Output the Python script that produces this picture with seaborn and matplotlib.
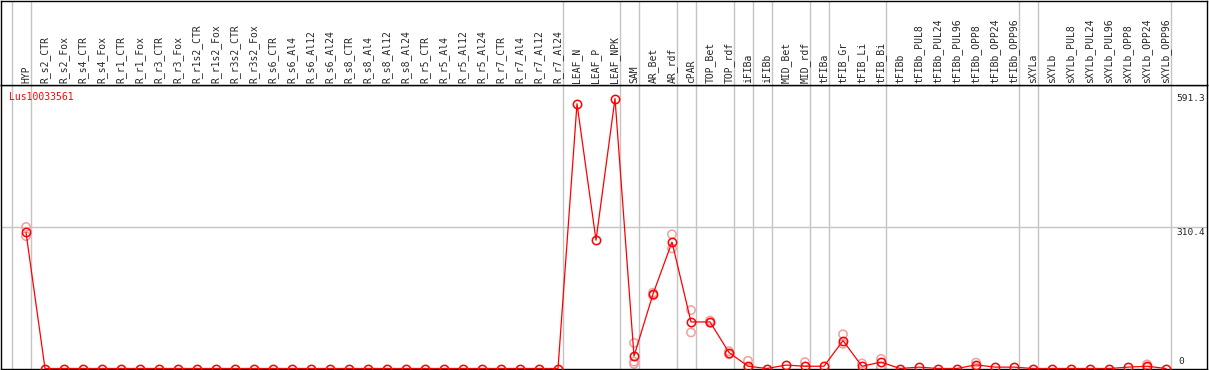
"""
Expression profile of one gene across tissue / treatment samples.
Writes out.png (1209x370).
"""

import numpy as np
import matplotlib
matplotlib.use("Agg")
import matplotlib.pyplot as plt
import seaborn as sns

# ── Data ──────────────────────────────────────────────────────────────────────
GENE = "Lus10033561"

SAMPLES = [
    "HYP",
    "R_s2_CTR", "R_s2_Fox", "R_s4_CTR", "R_s4_Fox", "R_r1_CTR", "R_r1_Fox",
    "R_r3_CTR", "R_r3_Fox", "R_r1s2_CTR", "R_r1s2_Fox", "R_r3s2_CTR",
    "R_r3s2_Fox", "R_s6_CTR", "R_s6_Al4", "R_s6_Al12", "R_s6_Al24",
    "R_s8_CTR", "R_s8_Al4", "R_s8_Al12", "R_s8_Al24", "R_r5_CTR", "R_r5_Al4",
    "R_r5_Al12", "R_r5_Al24", "R_r7_CTR", "R_r7_Al4", "R_r7_Al12", "R_r7_Al24",
    "LEAF_N", "LEAF_P", "LEAF_NPK",
    "SAM",
    "AR_Bet", "AR_rdf",
    "cPAR",
    "TOP_Bet", "TOP_rdf",
    "iFIBa",
    "iFIBb",
    "MID_Bet", "MID_rdf",
    "tFIBa",
    "tFIB_Gr", "tFIB_Li", "tFIB_Bi",
    "tFIBb", "tFIBb_PUL8", "tFIBb_PUL24", "tFIBb_PUL96", "tFIBb_OPP8",
    "tFIBb_OPP24", "tFIBb_OPP96",
    "sXYLa",
    "sXYLb", "sXYLb_PUL8", "sXYLb_PUL24", "sXYLb_PUL96", "sXYLb_OPP8",
    "sXYLb_OPP24", "sXYLb_OPP96",
]

# number of samples in each tissue block (separated by grey lines)
GROUP_SIZES = [1, 28, 3, 1, 2, 1, 2, 1, 1, 2, 1, 3, 7, 1, 7]

MEAN_EXPR = [
    298,
    0, 0, 0, 0, 0, 0, 0, 0, 0, 0, 0, 0, 0, 0,
    0, 0, 0, 0, 0, 0, 0, 0, 0, 0, 0, 0, 0, 0,
    580, 281, 591.3,
    27,
    163, 277,
    102,
    102, 35,
    5,
    0,
    7.5, 5,
    5,
    61, 5, 14,
    0, 3, 0, 0, 8, 3, 3,
    0,
    0, 0, 0, 0, 3, 5, 0,
]

# individual replicates (faded circles)
REP_SAMPLE = [
    "HYP", "HYP", "SAM", "SAM", "SAM", "AR_Bet", "AR_Bet", "AR_rdf", "AR_rdf",
    "cPAR", "cPAR", "TOP_Bet", "TOP_Bet", "TOP_rdf", "TOP_rdf", "iFIBa",
    "iFIBa", "MID_rdf", "tFIB_Gr", "tFIB_Gr", "tFIB_Li", "tFIB_Bi", "tFIB_Bi",
    "tFIBb_OPP8", "tFIBb_OPP8", "sXYLb_OPP24", "sXYLb_OPP24",
]
REP_EXPR = [
    310, 290, 56, 15, 10, 166, 160, 294, 263,
    128, 79, 105, 100, 38, 31, 17,
    2, 14, 75, 54, 11, 21, 3,
    13, 3, 9, 2,
]

Y_TICKS = [591.3, 310.4, 0]

# ── Figure ────────────────────────────────────────────────────────────────────
W, H = 1209, 370
MONO = "DejaVu Sans Mono"
GRID = "#c4c4c4"

sns.set_style("white")
plt.rcParams["font.family"] = MONO

fig = plt.figure(figsize=(W / 100, H / 100), dpi=100)
ax = fig.add_axes([1 / W, 1.5 / H, 1205.5 / W, 283.5 / H])
hdr = fig.add_axes([1 / W, 285 / H, 1205.5 / W, 84.5 / H])

xlim = (-25 / 19, 1180.5 / 19)
for a in (ax, hdr):
    a.set_xlim(*xlim)
    a.set_xticks([])
    a.set_yticks([])
    for s in a.spines.values():
        s.set_color("black")
        s.set_linewidth(1.0)

ax.set_ylim(0, 621)
hdr.set_ylim(0, 1)

# group separators
bounds = np.concatenate([[-1], np.cumsum(GROUP_SIZES) - 1]) + 0.24
for b in bounds:
    ax.axvline(b, color=GRID, lw=1.0, zorder=0)
    hdr.axvline(b, color=GRID, lw=1.0, zorder=0)
ax.axhline(Y_TICKS[1], color=GRID, lw=1.0, zorder=0)

# sample labels
for i, name in enumerate(SAMPLES):
    hdr.text(i, 0.02, name, rotation=90, ha="center", va="bottom",
             fontsize=7, family=MONO)

# replicates then mean profile
x_idx = np.arange(len(SAMPLES))
rep_x = [SAMPLES.index(s) for s in REP_SAMPLE]
sns.scatterplot(x=rep_x, y=REP_EXPR, ax=ax, marker="o", s=36,
                facecolor="none", edgecolor="#f0a0a0", linewidth=1.1,
                zorder=2, legend=False)
sns.lineplot(x=x_idx, y=MEAN_EXPR, ax=ax, color="red", lw=0.9,
             marker="o", markersize=6, markerfacecolor="none",
             markeredgecolor="red", markeredgewidth=1.1, zorder=3)
ax.set_xlim(*xlim)
ax.set_ylim(0, 621)
ax.set_xlabel("")
ax.set_ylabel("")

# right-hand value labels
tx = 60.55
ax.text(tx, Y_TICKS[0], "591.3", ha="left", va="center", fontsize=6.8)
ax.text(tx, Y_TICKS[1] - 3, "310.4", ha="left", va="top", fontsize=6.8)
ax.text(tx + 0.1, 6, "0", ha="left", va="bottom", fontsize=6.8)

fig.text(9 / W, 1 - 97 / H, GENE, color="red", ha="left", va="center",
         fontsize=7, family=MONO)

fig.savefig("out.png", dpi=100)
